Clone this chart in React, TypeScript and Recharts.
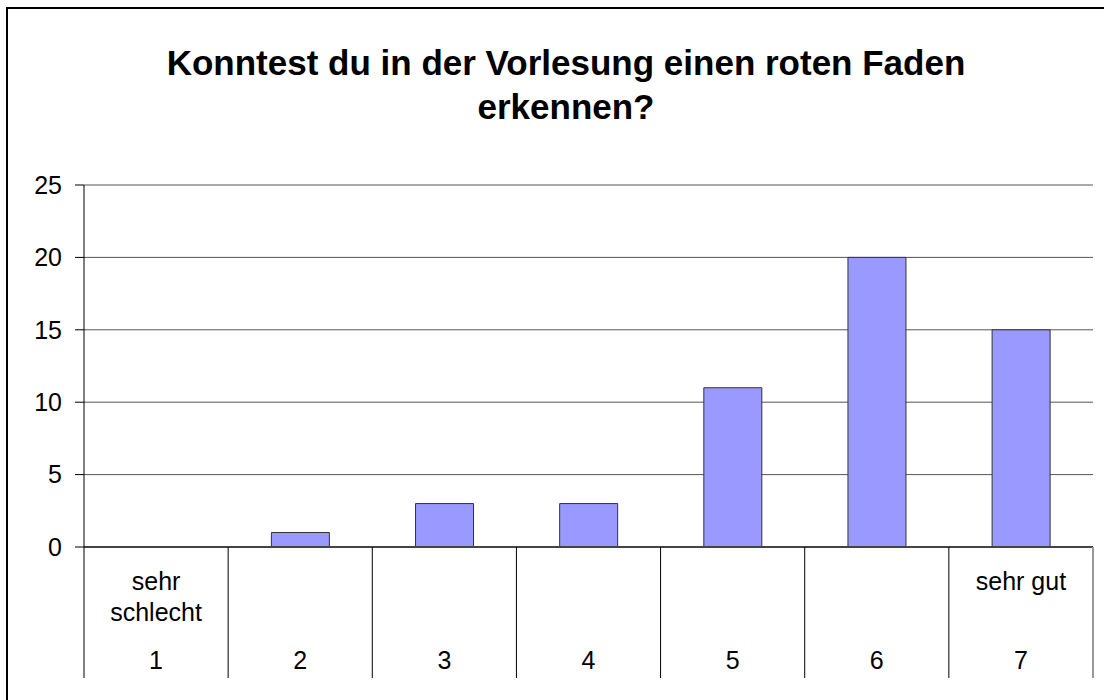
import { Bar, BarChart, CartesianGrid, XAxis, YAxis } from "recharts";

const categories = ["1", "2", "3", "4", "5", "6", "7"];
const counts = [0, 1, 3, 3, 11, 20, 15];
const scaleLabels = [["sehr", "schlecht"], [], [], [], [], [], ["sehr gut"]];
const yTicks = [0, 5, 10, 15, 20, 25];

const data = categories.map((c, i) => ({ name: c, value: counts[i] }));

const W = 1104;
const H = 700;
const LEFT = 84;
const RIGHT = 11;
const FONT = "'Liberation Sans', Arial, sans-serif";
const LABEL_SIZE = 25;

function CategoryTick(props: any) {
  const { x, y, payload, index } = props;
  const step = (W - LEFT - RIGHT) / categories.length;
  const lines: string[] = scaleLabels[index] || [];
  const last = index === categories.length - 1;
  return (
    <g>
      <line x1={x - step / 2} x2={x - step / 2} y1={y} y2={y + 131} stroke="#000" />
      {last && (
        <line x1={x + step / 2} x2={x + step / 2} y1={y} y2={y + 131} stroke="#999" strokeWidth={2} />
      )}
      {lines.map((t, i) => (
        <text
          key={i}
          x={x}
          y={y + 43 + i * 31}
          textAnchor="middle"
          fontSize={LABEL_SIZE}
          fontFamily={FONT}
          fill="#000"
        >
          {t}
        </text>
      ))}
      <text x={x} y={y + 122} textAnchor="middle" fontSize={LABEL_SIZE} fontFamily={FONT} fill="#000">
        {payload.value}
      </text>
    </g>
  );
}

export default function App() {
  return (
    <div
      style={{
        position: "relative",
        width: W,
        height: H,
        background: "#fff",
        overflow: "hidden",
      }}
    >
      <style>{`body{margin:0}`}</style>
      <div
        style={{
          position: "absolute",
          left: 6,
          top: 7,
          width: W,
          height: H,
          borderLeft: "2px solid #000",
          borderTop: "2px solid #000",
        }}
      />
      <div
        style={{
          position: "absolute",
          left: 0,
          top: 41,
          width: 1132,
          textAlign: "center",
          fontFamily: FONT,
          fontWeight: "bold",
          fontSize: 35,
          lineHeight: "44px",
          color: "#000",
        }}
      >
        Konntest du in der Vorlesung einen roten Faden
        <br />
        erkennen?
      </div>
      <div style={{ position: "absolute", left: 0, top: 0 }}>
        <BarChart
          width={W}
          height={H}
          data={data}
          margin={{ top: 185, right: RIGHT, left: 0, bottom: 0 }}
          barCategoryGap="30%"
        >
          <CartesianGrid vertical={false} stroke="#555" />
          <XAxis
            dataKey="name"
            height={153}
            tickLine={false}
            tickSize={0}
            tickMargin={0}
            axisLine={{ stroke: "#444", strokeWidth: 2 }}
            tick={<CategoryTick />}
            interval={0}
          />
          <YAxis
            width={LEFT}
            domain={[0, 25]}
            ticks={yTicks}
            tickSize={9}
            tickMargin={13}
            axisLine={{ stroke: "#000" }}
            tickLine={{ stroke: "#000" }}
            tick={{ fontSize: LABEL_SIZE, fontFamily: FONT, fill: "#000" }}
            interval={0}
          />
          <YAxis
            yAxisId="r"
            orientation="right"
            width={0}
            tick={false}
            tickLine={false}
            axisLine={{ stroke: "#bbb", strokeWidth: 2 }}
          />
          <Bar dataKey="value" fill="#9999ff" stroke="#333" strokeWidth={1} isAnimationActive={false} />
        </BarChart>
      </div>
    </div>
  );
}
